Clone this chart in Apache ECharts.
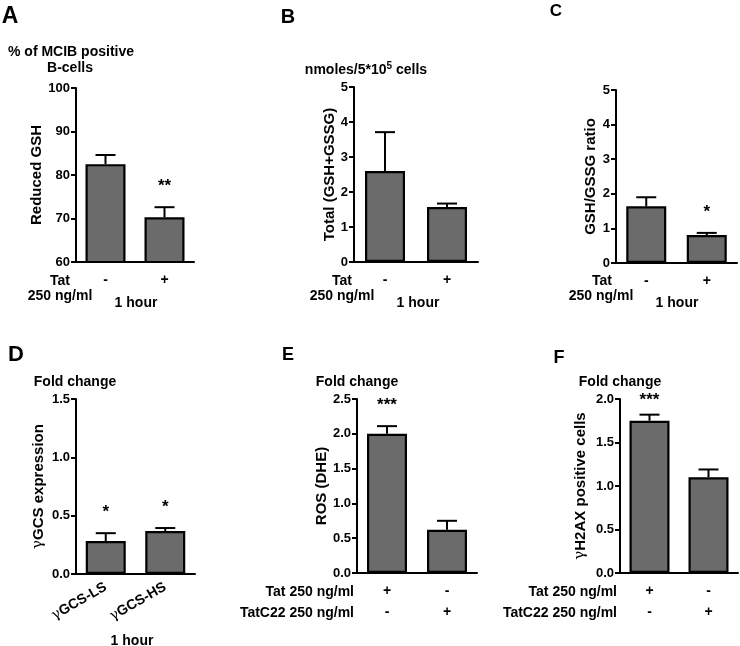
<!DOCTYPE html>
<html><head><meta charset="utf-8">
<script src="https://cdn.jsdelivr.net/npm/echarts@6/dist/echarts.min.js"></script>
<style>html,body{margin:0;padding:0;background:#fff}#c{width:740px;height:646px}</style>
</head><body><div id="c"></div>
<script>
// ---------- data ----------
const catsABC = ['-', '+'];
const catsD = ['γGCS-LS', 'γGCS-HS'];
const catsEF = ['+\n-', '-\n+'];

const valuesA = [82.5, 70.3]; const errA = [2.1, 2.3]; const starsA = ['', '**'];
const valuesB = [2.6, 1.57];  const errB = [1.11, 0.1]; const starsB = ['', ''];
const valuesC = [1.64, 0.81]; const errC = [0.26, 0.06]; const starsC = ['', '*'];
const valuesD = [0.283, 0.368]; const errD = [0.067, 0.026]; const starsD = ['*', '*'];
const valuesE = [2.0, 0.62];  const errE = [0.11, 0.13]; const starsE = ['***', ''];
const valuesF = [1.75, 1.10]; const errF = [0.07, 0.09]; const starsF = ['***', ''];

// y axis ranges: [min, max, interval]
const yRangeA = [60, 100, 10];
const yRangeB = [0, 5, 1];
const yRangeC = [0, 5, 1];
const yRangeD = [0, 1.5, 0.5];
const yRangeE = [0, 2.5, 0.5];
const yRangeF = [0, 2.0, 0.5];

const yNameA = 'Reduced GSH';
const yNameB = 'Total (GSH+GSSG)';
const yNameC = 'GSH/GSSG ratio';
const yNameD = '{g|γ}GCS expression';
const yNameE = 'ROS (DHE)';
const yNameF = '{g|γ}H2AX positive cells';

// ---------- layout ----------
const FONT = '"Liberation Sans", Arial, sans-serif';
const panels = [
  {cats: catsABC, v: valuesA, e: errA, s: starsA, r: yRangeA, name: yNameA, dec: 0, grid: {left: 76, top: 88, width: 118, height: 174}, nameGap: 32},
  {cats: catsABC, v: valuesB, e: errB, s: starsB, r: yRangeB, name: yNameB, dec: 0, grid: {left: 354, top: 87, width: 124, height: 175}, nameGap: 16},
  {cats: catsABC, v: valuesC, e: errC, s: starsC, r: yRangeC, name: yNameC, dec: 0, grid: {left: 616, top: 90, width: 121, height: 173}, nameGap: 18},
  {cats: catsD, v: valuesD, e: errD, s: starsD, r: yRangeD, name: yNameD, dec: 1, grid: {left: 76, top: 399, width: 119, height: 175}, nameGap: 30, rot: 30},
  {cats: catsEF, v: valuesE, e: errE, s: starsE, r: yRangeE, name: yNameE, dec: 1, grid: {left: 357, top: 399, width: 120, height: 174}, nameGap: 28},
  {cats: catsEF, v: valuesF, e: errF, s: starsF, r: yRangeF, name: yNameF, dec: 1, grid: {left: 620, top: 399, width: 118, height: 174}, nameGap: 32}
];

const grids = [], xAxes = [], yAxes = [], series = [];
panels.forEach((p, i) => {
  grids.push(Object.assign({outerBoundsMode: 'none', containLabel: false}, p.grid));
  xAxes.push({
    type: 'category', gridIndex: i, data: p.cats,
    axisLine: {lineStyle: {color: '#000', width: 2}},
    axisTick: {alignWithLabel: true, length: 6, lineStyle: {color: '#000', width: 2}},
    axisLabel: p.rot ? {
      rotate: p.rot, margin: 12, color: '#000', fontSize: 14, fontWeight: 'bold', fontFamily: FONT, interval: 0,
      formatter: v => v.replace('γ', '{g|γ}'),
      rich: {g: {fontFamily: '"DejaVu Serif", serif', fontWeight: 'normal', fontSize: 14, color: '#000'}}
    } : {
      margin: 8, color: '#000', fontSize: 14, fontWeight: 'bold', fontFamily: FONT, lineHeight: 21, interval: 0
    }
  });
  yAxes.push({
    type: 'value', gridIndex: i, min: p.r[0], max: p.r[1], interval: p.r[2],
    splitLine: {show: false},
    axisLine: {show: true, lineStyle: {color: '#000', width: 2}},
    axisTick: {show: true, length: 5, lineStyle: {color: '#000', width: 2}},
    axisLabel: {margin: 6, color: '#000', fontSize: 13, fontWeight: 'bold', fontFamily: FONT,
      formatter: v => v.toFixed(p.dec)},
    name: p.name, nameLocation: 'middle', nameGap: p.nameGap,
    nameTextStyle: {color: '#000', fontSize: 15, fontWeight: 'bold', fontFamily: FONT,
      rich: {g: {fontFamily: '"DejaVu Serif", serif', fontWeight: 'normal', fontSize: 15, color: '#000'}}}
  });
  series.push({
    type: 'bar', xAxisIndex: i, yAxisIndex: i, data: p.v, barWidth: 40,
    itemStyle: {color: '#6b6b6b', borderColor: '#000', borderWidth: 2.2},
    silent: true, animation: false
  });
  series.push({
    type: 'custom', xAxisIndex: i, yAxisIndex: i, animation: false, silent: true, z: 5,
    data: p.v.map((v, k) => [k, v, p.e[k]]),
    renderItem: (params, api) => {
      const k = api.value(0), v = api.value(1), e = api.value(2);
      const p0 = api.coord([k, v]), p1 = api.coord([k, v + e]);
      const ch = [
        {type: 'line', shape: {x1: p0[0], y1: p0[1], x2: p1[0], y2: p1[1]}, style: {stroke: '#000', lineWidth: 2}},
        {type: 'line', shape: {x1: p1[0] - 10, y1: p1[1], x2: p1[0] + 10, y2: p1[1]}, style: {stroke: '#000', lineWidth: 2}}
      ];
      const st = p.s[params.dataIndex];
      if (st) ch.push({type: 'text', x: p1[0], y: Math.max(p1[1] - 21, params.coordSys.y + 1),
        style: {text: st, fill: '#000', font: 'bold 17px ' + FONT, align: 'center', verticalAlign: 'middle'}});
      return {type: 'group', children: ch};
    }
  });
});

function txt(x, y, t, size, align, extra) {
  return Object.assign({type: 'text', x: x, y: y, silent: true,
    style: {text: t, fill: '#000', font: 'bold ' + size + 'px ' + FONT, align: align || 'center', verticalAlign: 'middle'}}, extra || {});
}
const graphics = [
  txt(10, 17, 'A', 23), txt(288, 17, 'B', 20), txt(556, 11, 'C', 17),
  txt(16, 355, 'D', 22), txt(288, 355, 'E', 18), txt(559, 358, 'F', 18),
  txt(71, 52, '% of MCIB positive', 14), txt(70, 68, 'B-cells', 14),
  {type: 'text', x: 366, y: 70, silent: true, style: {
    text: 'nmoles/5*10{sup|5} cells', fill: '#000', font: 'bold 14px ' + FONT, align: 'center', verticalAlign: 'middle',
    rich: {sup: {fontSize: 10, fontWeight: 'bold', fontFamily: FONT, verticalAlign: 'top', padding: [0, 0, 8, 0]}}}},
  txt(60, 281, 'Tat', 14), txt(60, 296, '250 ng/ml', 14), txt(136, 303, '1 hour', 14),
  txt(342, 281, 'Tat', 14), txt(342, 296, '250 ng/ml', 14), txt(418, 303, '1 hour', 14),
  txt(602, 281, 'Tat', 14), txt(601, 296, '250 ng/ml', 14), txt(677, 303, '1 hour', 14),
  txt(75, 382, 'Fold change', 14), txt(132, 641, '1 hour', 14),
  txt(357, 382, 'Fold change', 14), txt(354, 592, 'Tat 250 ng/ml', 14, 'right'), txt(354, 613, 'TatC22 250 ng/ml', 14, 'right'),
  txt(620, 382, 'Fold change', 14), txt(617, 592, 'Tat 250 ng/ml', 14, 'right'), txt(617, 613, 'TatC22 250 ng/ml', 14, 'right')
];

const chart = echarts.init(document.getElementById('c'), null, {renderer: 'canvas'});
chart.setOption({
  backgroundColor: '#fff', animation: false,
  grid: grids, xAxis: xAxes, yAxis: yAxes, series: series, graphic: graphics
});
</script></body></html>
